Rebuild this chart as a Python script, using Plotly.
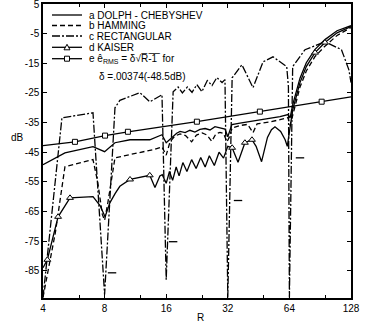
import plotly.graph_objects as go

# ---------------- data ----------------
a_R = [4, 5.12, 7.02, 8.0, 8.99, 10.65, 13.3, 15.26, 16.0, 17.1, 18.0, 18.7, 19.8, 20.9, 22.1, 23.4,
       24.8, 26.2, 27.7, 29.3, 31.0, 32.0, 33.5, 36.7, 41.1, 46.0, 51.4, 57.6, 63.0, 64.5, 66.4,
       72.1, 77.4, 85.4, 95.5, 109.4, 128]
a_dB = [-49.2, -45.2, -43.1, -44.8, -41.8, -40.8, -40.8, -39.1, -41.8, -39.8, -38.6, -38.0, -38.4, -37.6,
        -38.2, -37.3, -37.0, -37.5, -36.4, -36.8, -37.2, -39.8, -35.7, -35.2, -34.7, -34.2, -33.5,
        -33.0, -32.3, -33.4, -29.0, -20.0, -14.8, -10.3, -7.0, -4.0, -2.3]

b_R = [4, 4.6, 5.12, 7.02, 7.4, 7.8, 8.0, 8.3, 8.99, 10.65, 12.6, 14.1, 15.26, 16.0, 16.7, 17.6,
       18.7, 19.9, 21.3, 22.5, 24.0, 25.3, 26.7, 28.0, 29.3, 30.5, 31.7, 32.5, 33.6, 36.7, 40.0,
       42.5, 44.5, 51.4, 57.6, 63.0, 64.5, 66.4, 72.1, 77.4, 85.4, 95.5, 109.4, 128]
b_dB = [-94, -72, -49.9, -47.5, -55, -66, -68, -62, -46.9, -45.8, -44.6, -44.0, -43.2, -46.0, -41.5,
        -39.6, -38.8, -39.4, -41.5, -39.2, -38.5, -39.2, -41.3, -38.8, -38.3, -38.7, -41.5, -40.0,
        -36.8, -36.0, -35.6, -38.4, -35.4, -34.8, -34.0, -33.3, -36.0, -32.5, -23.0, -17.6, -12.7,
        -9.2, -5.6, -2.9]

c_R = [4, 4.95, 7.02, 8.0, 8.99, 9.5, 11.9, 13.3, 15.26, 16.0, 17.3, 18.3, 19.2, 20.3, 21.4, 22.6,
       23.9, 25.4, 26.8, 28.3, 30.0, 31.0, 32.0, 33.6, 37.5, 42.5, 47.6, 53.2, 62.1, 63.3, 64.0,
       66.4, 76.3, 95.5, 115, 125, 128]
c_dB = [-94, -33.4, -31.7, -93, -30.0, -27.5, -24.9, -28.0, -25.6, -88, -24.6, -23.0, -25.0, -23.0,
        -24.8, -22.2, -24.6, -20.8, -22.5, -19.8, -21.5, -20.5, -94, -19.9, -15.5, -23.2, -14.5,
        -12.8, -16.1, -22.9, -94, -16.1, -10.4, -7.7, -10.4, -17.2, -21.5]

d_R = [4, 4.2, 4.74, 5.42, 7.02, 7.6, 8.04, 8.5, 9.0, 9.5, 10.65, 12.0, 13.3, 14.1, 14.9, 15.3, 16.0,
       16.6, 17.2, 17.9, 18.5, 19.3, 20.2, 21.3, 22.4, 23.6, 24.8, 26.0, 27.5, 29.0, 30.5, 32.0,
       33.6, 35.9, 38.8, 42.0, 44.0, 46.8, 50.0, 52.3, 54.4, 58.0, 61.0, 62.5, 64.0, 65.7, 66.4,
       72.1, 77.4, 85.4, 95.5, 109.4, 128]
d_dB = [-84, -81.3, -66.8, -60.4, -60.0, -63.0, -66.8, -62.0, -59.0, -56.5, -54.2, -53.5, -52.8,
        -56.9, -53.0, -52.6, -55.5, -51.5, -54.5, -50.0, -53.0, -48.5, -51.5, -47.5, -50.5, -46.8,
        -50.0, -46.2, -49.5, -45.0, -47.0, -43.0, -43.5, -48.4, -41.8, -40.8, -43.0, -48.2, -40.0,
        -37.4, -36.4, -38.0, -40.8, -43.0, -38.0, -34.0, -30.7, -21.5, -16.1, -11.4, -8.0, -4.7, -2.6]
d_mark_R = [4.2, 4.74, 5.42, 10.65, 13.3, 33.6, 38.8, 42.0, 85.4, 95.5]
d_mark_dB = [-81.3, -66.8, -60.4, -54.2, -52.8, -43.5, -41.8, -40.8, -11.4, -8.0]

e_R = [4, 5.73, 8.04, 10.4, 22.6, 45.9, 92, 128]
e_dB = [-42.8, -41.5, -39.4, -38.1, -34.7, -31.3, -27.95, -26.3]

mark_R = [8.7, 17.3, 35.9, 72.1]
mark_dB = [-85.7, -75.2, -61.3, -46.9]

x_ticks = [4, 8, 16, 32, 64, 128]
x_minor = [6, 12, 24, 48, 96]
y_ticks = [5, -5, -15, -25, -35, -45, -55, -65, -75, -85]

legend_labels = ["a DOLPH - CHEBYSHEV", "b HAMMING", "c RECTANGULAR", "d KAISER",
                 "e ê<sub>RMS</sub> = δ√R̅-̅1̅  for"]
legend_extra = "δ =.00374(-48.5dB)"

# ---------------- figure ----------------
FONT = "Liberation Sans, Arial, sans-serif"
W, H = 371, 325
L, R_, T, B = 43, 20, 4, 27
PW, PH = W - L - R_, H - T - B

def px2x(px):
    return (px - L) / PW

def py2y(py):
    return (H - B - py) / PH

LW = 1.3
fig = go.Figure()
fig.add_trace(go.Scatter(x=a_R, y=a_dB, mode="lines", line=dict(color="black", width=LW)))
fig.add_trace(go.Scatter(x=b_R, y=b_dB, mode="lines", line=dict(color="black", width=LW, dash="5px,3px")))
fig.add_trace(go.Scatter(x=c_R, y=c_dB, mode="lines",
                         line=dict(color="black", width=LW, dash="8px,2px,2px,2px")))
fig.add_trace(go.Scatter(x=d_R, y=d_dB, mode="lines", line=dict(color="black", width=LW)))
fig.add_trace(go.Scatter(x=e_R, y=e_dB, mode="lines", line=dict(color="black", width=LW)))
fig.add_trace(go.Scatter(x=d_mark_R, y=d_mark_dB, mode="markers",
                         marker=dict(symbol="triangle-up", size=6, color="white",
                                     line=dict(color="black", width=1))))
fig.add_trace(go.Scatter(x=e_R[1:-1], y=e_dB[1:-1], mode="markers",
                         marker=dict(symbol="square", size=5, color="white",
                                     line=dict(color="black", width=1))))
fig.add_trace(go.Scatter(x=mark_R, y=mark_dB, mode="markers",
                         marker=dict(symbol="line-ew", size=6, line=dict(color="black", width=1.3))))

axis_common = dict(showline=True, linecolor="black", linewidth=1.5, mirror="ticks",
                   ticks="inside", ticklen=4, tickwidth=1, tickcolor="black",
                   showgrid=False, zeroline=False, automargin=False, ticklabeloverflow="allow",
                   tickfont=dict(family=FONT, size=10, color="black"))

fig.update_xaxes(type="log", range=[0.60206, 2.10721], tickvals=x_ticks,
                 ticktext=[str(v) for v in x_ticks],
                 minor=dict(tickvals=x_minor, ticks="inside", ticklen=3, tickcolor="black"),
                 **axis_common)
fig.update_yaxes(range=[-94.2, 5.02], tickvals=y_ticks, ticktext=[str(v) for v in y_ticks],
                 **axis_common)

shapes = []
annotations = []
row_y = [15, 25.5, 36, 47.3, 58.7]
dashes = ["solid", "5px,3px", "8px,2px,2px,2px", "solid", "solid"]
for lab, yy, ds in zip(legend_labels, row_y, dashes):
    shapes.append(dict(type="line", xref="paper", yref="paper", x0=px2x(52), x1=px2x(82),
                       y0=py2y(yy), y1=py2y(yy), line=dict(color="black", width=LW, dash=ds)))
    annotations.append(dict(xref="paper", yref="paper", x=px2x(87), y=py2y(yy), text=lab,
                            showarrow=False, xanchor="left", yanchor="middle",
                            font=dict(family=FONT, size=10, color="black")))
# legend markers
ty = row_y[3]
shapes.append(dict(type="path", xref="paper", yref="paper",
                   path=f"M {px2x(64)},{py2y(ty+2.5)} L {px2x(70)},{py2y(ty+2.5)} L {px2x(67)},{py2y(ty-3)} Z",
                   fillcolor="white", line=dict(color="black", width=1)))
sy = row_y[4]
shapes.append(dict(type="rect", xref="paper", yref="paper", x0=px2x(64.5), x1=px2x(69.5),
                   y0=py2y(sy+2.5), y1=py2y(sy-2.5), fillcolor="white",
                   line=dict(color="black", width=1)))
annotations.append(dict(xref="paper", yref="paper", x=px2x(97), y=py2y(76.7), text=legend_extra,
                        showarrow=False, xanchor="left", yanchor="middle",
                        font=dict(family=FONT, size=10, color="black")))
annotations.append(dict(xref="paper", yref="paper", x=px2x(17), y=py2y(138), text="dB",
                        showarrow=False, xanchor="center", yanchor="middle",
                        font=dict(family=FONT, size=10, color="black")))
annotations.append(dict(xref="paper", yref="paper", x=px2x(200), y=py2y(317), text="R",
                        showarrow=False, xanchor="center", yanchor="middle",
                        font=dict(family=FONT, size=10, color="black")))

fig.update_layout(width=W, height=H, margin=dict(l=L, r=R_, t=T, b=B),
                  paper_bgcolor="white", plot_bgcolor="white", showlegend=False,
                  shapes=shapes, annotations=annotations)

fig.write_html("out.html", config={"displayModeBar": False},
               post_script="document.body.style.margin='0';document.body.style.padding='0';")
